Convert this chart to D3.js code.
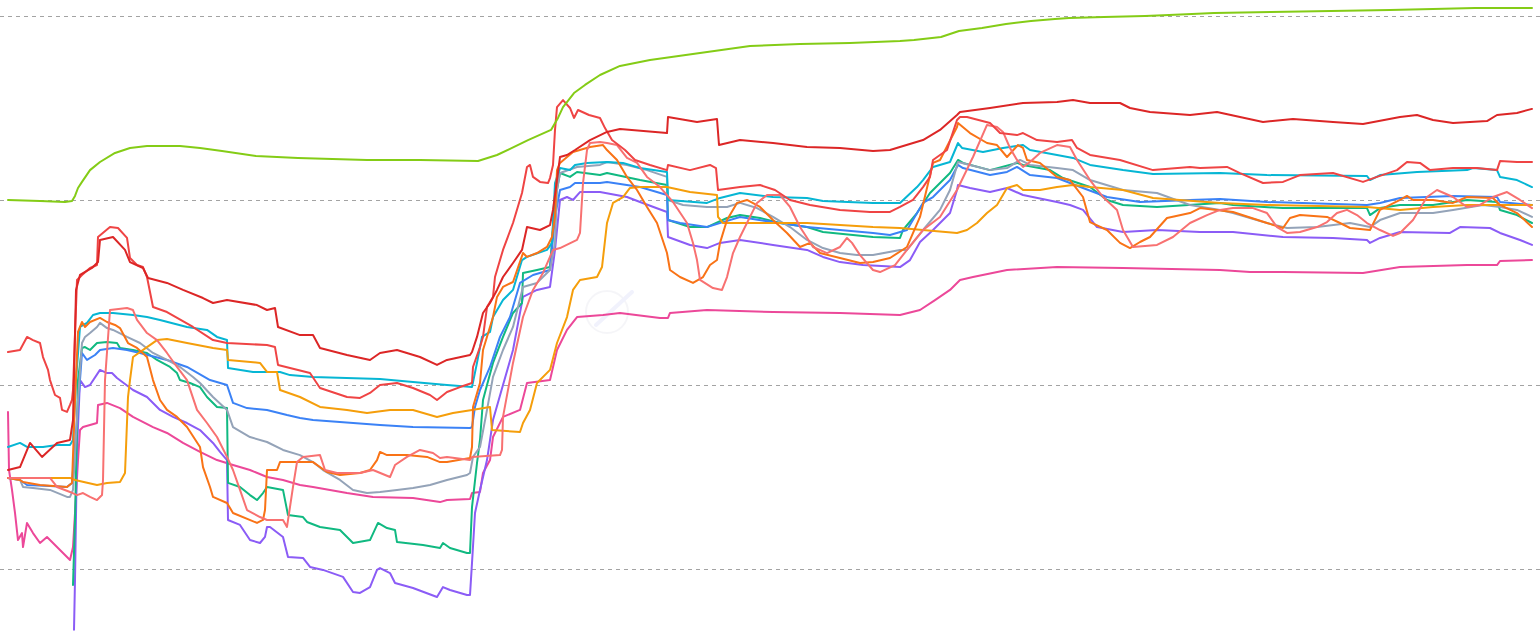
<!DOCTYPE html>
<html><head><meta charset="utf-8">
<script src="https://cdn.jsdelivr.net/npm/d3@7"></script>
<style>html,body{margin:0;padding:0;background:#fff;overflow:hidden}</style>
</head><body><svg id="chart" width="1540" height="633"></svg>
<script>
// ---- data (x = day index, y = value) ----
const gridTicks = [0, 100, 200, 300];
const dayDomain = [0, 1524];

const lime = [[0,200.2],[32,199.6],[57,199.1],[64,199.6],[67,202.4],[70,206.7],[74,210],[82,216.4],[92,220.8],[107,225.7],[122,228.4],[139,229.5],[172,229.5],[192,228.4],[214,226.8],[248,224],[290,223],[359,221.9],[412,221.9],[470,221.3],[489,224.6],[502,227.9],[520,232.7],[543,238.2],[550,244.7],[555,250.6],[566,258.2],[577,262.6],[592,268],[612,272.9],[642,276.1],[692,279.9],[742,283.7],[792,284.8],[842,285.4],[892,286.4],[906,287],[933,288.6],[951,291.9],[974,293.5],[998,295.7],[1023,297.3],[1047,298.4],[1061,298.9],[1096,299.5],[1137,300],[1161,300.5],[1184,301.1],[1206,301.6],[1263,302.2],[1323,302.7],[1382,303.3],[1425,303.8],[1467,304.3],[1524,304.3]];

const darkRed = [[0,53.7],[12,55.3],[22,68.4],[34,60.8],[49,68.4],[62,70],[65,80.8],[68,151.4],[72,159.5],[84,163.3],[90,166.5],[92,178.5],[105,180.1],[117,173.1],[122,166.5],[135,163.3],[140,157.9],[159,155.2],[175,151.4],[195,147],[205,144.3],[219,145.9],[249,143.2],[259,140.5],[267,141.6],[270,131.3],[292,126.9],[305,126.9],[312,119.9],[339,116.1],[362,113.4],[372,117.2],[389,118.8],[412,115],[429,110.7],[439,113.4],[462,116.1],[464,117.7],[469,125.9],[475,138.9],[482,144.3],[489,151.4],[495,158.4],[505,166],[514,173.1],[519,185.5],[532,183.9],[542,186.6],[545,194.8],[552,223.5],[559,224.6],[567,227.3],[582,232.7],[599,237.1],[612,238.7],[659,236.5],[660,245.2],[689,242.5],[709,244.1],[711,230],[732,232.7],[765,231.1],[799,228.9],[832,228.4],[865,226.8],[882,227.3],[915,232.7],[932,238.2],[949,246.3],[952,247.9],[982,250.1],[1015,252.8],[1049,253.4],[1065,254.4],[1082,252.8],[1112,252.8],[1122,250.1],[1142,247.9],[1182,246.3],[1209,247.9],[1232,245.2],[1255,242.5],[1285,244.1],[1325,242.5],[1355,241.4],[1392,245.2],[1409,246.3],[1425,243.6],[1445,242],[1479,243],[1489,246.3],[1509,247.4],[1524,249.6]];

const red = [[0,117.7],[12,118.8],[19,125.9],[25,124.2],[32,122.6],[35,115],[40,108],[42,102.5],[47,94.4],[52,92.8],[54,86.3],[59,85.2],[62,89],[64,91.7],[65,97.1],[69,156.8],[74,159.5],[82,163.3],[89,164.9],[90,180.1],[102,185.5],[110,185],[119,179.6],[122,168.7],[129,164.9],[135,163.8],[139,158.4],[145,142.1],[159,139.4],[185,131.3],[205,124.2],[219,122.6],[259,121.5],[267,120.4],[270,110.7],[302,106.3],[312,98.2],[339,93.3],[352,92.8],[362,95.5],[372,99.8],[389,100.9],[405,98.2],[422,94.4],[429,91.7],[439,96],[452,98.7],[464,100.9],[465,109.6],[472,120.4],[475,125.9],[479,142.1],[485,147.6],[487,158.4],[495,173.1],[505,187.7],[514,204],[519,218.1],[522,219.2],[525,212.7],[532,210],[540,209.4],[542,212.1],[545,219.2],[547,238.2],[549,250.6],[555,254.4],[562,250.1],[566,244.7],[570,249],[581,246.3],[592,244.7],[597,239.2],[604,232.7],[617,227.3],[627,221.9],[642,219.2],[659,216.4],[660,219.2],[682,216.4],[702,219.2],[708,217.5],[710,205.6],[732,207.2],[752,208.3],[767,205.6],[782,200.2],[802,197.5],[832,194.8],[862,193.7],[882,193.7],[892,196.4],[905,200.2],[915,207.2],[922,212.7],[925,221.9],[939,227.3],[949,243.6],[952,245.2],[959,245.2],[982,242],[992,236.5],[1009,235.4],[1015,236.5],[1029,232.7],[1049,231.6],[1064,232.7],[1069,228.4],[1082,224.6],[1112,221.9],[1145,216.4],[1182,218.1],[1192,217.5],[1219,218.1],[1232,214.8],[1255,209.4],[1275,210],[1292,213.7],[1325,214.8],[1355,210],[1369,212.7],[1389,216.4],[1399,220.8],[1412,220.3],[1422,216.4],[1445,217.5],[1469,217.5],[1489,216.4],[1492,221.3],[1509,220.8],[1524,220.8]];

const salmon = [[0,49.4],[42,49.4],[49,44.5],[62,41.8],[69,40.1],[75,41.2],[82,39.1],[89,37.4],[94,40.1],[95,48.3],[97,102.5],[102,140.5],[119,141.6],[125,140.5],[129,135.1],[139,128],[149,124.2],[159,117.2],[169,109.6],[179,102.5],[189,86.3],[199,79.2],[209,71.6],[219,60.8],[225,53.7],[232,42.9],[239,32],[252,28.2],[259,26.6],[275,26.6],[279,22.8],[285,44.5],[289,58],[295,60.8],[312,61.8],[317,53.7],[329,52.1],[352,52.1],[365,53.7],[382,49.9],[387,56.4],[399,60.8],[412,64.6],[425,62.9],[432,60.2],[439,60.8],[462,59.1],[464,60.8],[492,61.8],[494,64.6],[495,82.5],[505,111.8],[515,136.7],[525,151.4],[535,160.6],[545,173.1],[552,174.1],[569,178.5],[572,182.3],[575,209.4],[579,227.3],[582,231.1],[592,231.6],[599,231.1],[609,230],[619,223],[629,220.3],[639,212.7],[652,207.2],[665,199.1],[679,187.7],[685,176.9],[689,167.6],[692,156.8],[705,152.4],[714,151.4],[719,158.4],[725,171.4],[732,180.1],[742,191],[749,198.6],[759,202.9],[772,202.9],[782,196.4],[792,185.5],[805,174.7],[819,171.4],[832,174.7],[839,179.6],[844,176.9],[852,170.3],[865,162.2],[872,161.1],[887,164.9],[899,173.1],[915,183.9],[932,191],[949,205.6],[965,223.5],[979,240.9],[989,239.8],[995,237.1],[1002,228.4],[1009,221.9],[1015,218.1],[1022,220.8],[1032,225.7],[1049,230],[1062,228.9],[1069,221.9],[1082,211],[1095,201.8],[1109,194.8],[1115,183.9],[1125,174.7],[1149,175.8],[1165,180.1],[1182,187.7],[1199,192],[1212,194.8],[1225,195.8],[1245,195.8],[1259,193.1],[1269,185.5],[1279,182.3],[1292,182.8],[1309,185.5],[1319,188.2],[1329,193.1],[1339,194.8],[1349,192],[1359,187.7],[1372,183.9],[1385,180.7],[1392,182.3],[1405,189.3],[1419,201.8],[1429,205.6],[1445,201.8],[1459,196.4],[1472,197.5],[1485,201.8],[1499,204.5],[1512,200.2],[1524,195.8]];

const cyan = [[0,66.2],[12,68.4],[19,66.2],[35,66.2],[49,67.3],[62,67.3],[65,70],[68,102.5],[72,131.3],[79,133.5],[85,137.8],[92,138.9],[105,138.9],[125,137.8],[139,136.7],[152,135.1],[179,131.3],[199,129.7],[209,125.9],[219,124.2],[220,109],[245,106.9],[272,106.9],[282,105.2],[305,104.2],[372,103.1],[405,101.4],[439,99.8],[464,98.7],[469,111.8],[474,125.9],[482,128.6],[485,136.7],[495,145.9],[505,151.4],[514,167.6],[519,169.3],[539,173.1],[544,176.9],[547,209.4],[552,217.5],[562,216.4],[567,219.2],[579,220.3],[599,220.8],[615,220.3],[632,217.5],[659,215.4],[660,200.2],[699,198.6],[712,201.3],[732,204],[765,201.8],[799,201.3],[815,199.6],[865,198.6],[892,198.6],[909,207.2],[915,211],[925,218.1],[942,220.8],[950,231.1],[954,228.4],[975,226.2],[995,228.4],[1015,230],[1022,227.3],[1049,224.6],[1065,223],[1082,219.2],[1115,216.4],[1145,214.3],[1212,214.8],[1259,213.7],[1359,213.2],[1362,211],[1372,213.7],[1409,215.4],[1459,216.4],[1465,217.5],[1489,216.4],[1492,212.7],[1509,211],[1524,207.2]];

const orange = [[0,49.4],[12,48.3],[15,47.2],[32,45.6],[59,44.5],[64,46.7],[67,91.7],[70,128.6],[74,134],[77,131.3],[82,134],[92,136.2],[99,134],[107,132.4],[112,130.7],[120,122.6],[129,119.9],[139,115],[145,102.5],[152,91.7],[159,86.3],[169,82.5],[179,77],[192,66.2],[195,55.3],[202,44.5],[205,39.1],[219,35.8],[225,30.4],[249,25],[255,26.6],[257,32],[259,53.7],[269,53.7],[272,58],[305,58],[319,52.6],[332,51],[352,52.1],[362,53.7],[369,59.1],[372,63.5],[379,61.8],[399,61.8],[419,60.8],[432,58],[439,58],[462,60.2],[464,66.2],[465,87.9],[472,100.9],[475,118.8],[485,136.7],[489,147.6],[495,153],[505,155.7],[515,171.4],[519,169.3],[529,171.4],[539,174.7],[544,180.1],[547,191],[549,216.4],[552,220.3],[565,226.2],[582,228.9],[595,230],[599,227.3],[609,221.9],[619,212.7],[629,205.6],[639,196.4],[649,187.7],[659,171.4],[662,162.2],[672,158.4],[685,155.2],[695,158.4],[702,164.9],[709,167.6],[712,176.9],[719,189.3],[729,198.6],[739,200.2],[752,196.4],[765,189.3],[779,182.3],[792,174.7],[802,176.9],[812,171.4],[832,168.7],[852,166],[865,166.5],[882,168.7],[899,174.7],[912,191],[925,220.3],[932,221.9],[949,239.8],[950,242],[962,236.5],[979,231.1],[989,230],[999,223.5],[1010,230],[1015,228.4],[1019,221.9],[1032,220.3],[1049,212.7],[1062,211],[1075,201.8],[1082,188.2],[1099,183.9],[1112,176.9],[1122,174.1],[1132,177.4],[1142,180.1],[1159,190.4],[1182,193.1],[1192,195.8],[1225,193.7],[1259,187.7],[1275,185],[1282,190.4],[1292,192],[1319,191],[1332,187.7],[1342,185],[1362,183.9],[1372,194.8],[1392,200.2],[1399,202.4],[1405,200.2],[1425,200.2],[1445,198.6],[1459,201.8],[1485,201.3],[1492,197.5],[1509,193.1],[1524,185.5]];

const amber = [[0,49.4],[62,49.4],[67,48.3],[89,45.6],[99,46.7],[112,47.2],[117,52.1],[120,93.3],[122,102.5],[125,115],[139,120.4],[149,124.2],[159,124.8],[179,122.6],[205,119.9],[219,118.8],[220,113.4],[252,111.8],[259,106.9],[269,106.9],[272,97.1],[292,93.3],[312,87.9],[339,86.3],[359,84.6],[382,86.3],[405,86.3],[429,82.5],[445,84.6],[464,86.3],[482,87.9],[484,75.4],[512,74.3],[515,79.2],[522,86.3],[529,100.9],[542,108],[549,122.6],[559,136.7],[565,151.4],[572,156.8],[589,158.4],[594,163.8],[599,187.7],[605,198.6],[615,201.8],[622,206.7],[632,207.2],[659,207.2],[682,204.5],[709,202.9],[710,191],[715,187.7],[765,187.7],[799,187.7],[832,186.6],[865,185.5],[892,185],[949,182.3],[959,183.9],[969,187.7],[979,193.1],[989,197.5],[999,206.7],[1009,208.3],[1015,205.6],[1032,205.6],[1049,207.2],[1065,208.3],[1082,207.2],[1115,205.6],[1145,201.3],[1212,198.6],[1259,197.5],[1359,196.4],[1392,194.8],[1425,196.4],[1459,197.5],[1492,197.5],[1524,197.5]];

const blue = [[0,49.4],[12,48.3],[19,45.6],[42,45],[59,44.5],[64,46.7],[69,80.8],[74,117.2],[79,113.4],[87,116.1],[92,118.8],[105,119.9],[119,118.8],[132,117.2],[159,113.4],[179,109.6],[202,102.5],[219,99.8],[225,90.1],[239,87.3],[259,86.3],[279,83.5],[292,81.9],[305,80.8],[372,78.1],[405,77],[462,76.5],[464,77],[467,87.9],[472,97.1],[482,109.6],[492,125.9],[502,136.7],[512,155.2],[525,159.5],[542,162.2],[547,191],[552,205.6],[562,207.2],[567,209.4],[592,209.4],[599,210],[632,207.2],[659,202.9],[660,189.3],[672,187.7],[699,185.5],[715,188.2],[732,191],[765,188.2],[799,185.5],[832,183.9],[865,182.3],[882,181.2],[899,183.9],[915,198.6],[925,201.8],[942,211],[950,219.2],[955,217.5],[982,213.7],[999,215.4],[1009,218.1],[1022,213.7],[1049,212.1],[1075,206.7],[1099,201.8],[1132,199.1],[1182,200.2],[1212,200.7],[1259,199.1],[1359,197.5],[1372,198.6],[1392,201.3],[1445,202.4],[1489,201.8],[1492,199.1],[1524,197.5]];

const green = [[65,-8.7],[67,26.6],[70,102.5],[74,119.9],[77,120.4],[82,118.8],[89,122.6],[99,123.1],[109,122.6],[112,119.9],[125,118.8],[139,117.2],[149,113.4],[162,109.6],[169,106.3],[172,102.5],[182,100.9],[192,98.7],[199,93.3],[209,87.9],[219,87.3],[220,46.7],[232,44.5],[242,40.1],[249,37.4],[255,41.2],[259,44.5],[275,42.9],[280,29.3],[295,28.2],[299,25.5],[312,22.8],[332,21.2],[345,14.1],[362,15.7],[370,25],[379,22.2],[387,21.2],[389,14.6],[415,13],[432,11.4],[435,14.1],[442,11.4],[459,8.7],[462,8.7],[464,33.6],[469,57.5],[472,70],[475,91.7],[479,99.8],[485,111.8],[495,125.9],[505,138.9],[514,144.3],[515,160.6],[529,162.2],[542,163.8],[547,200.2],[552,214.8],[562,212.7],[569,215.4],[592,213.7],[599,214.8],[632,211],[659,208.3],[660,189.3],[682,185.5],[699,185.5],[719,190.4],[732,192],[752,190.4],[772,187.7],[799,185.5],[815,182.8],[865,180.1],[892,179.6],[895,183.9],[909,193.1],[922,204],[942,214.8],[950,221.9],[955,220.3],[982,216.4],[1009,220.3],[1015,219.2],[1042,216.4],[1055,212.1],[1082,207.2],[1099,200.2],[1115,197.5],[1149,196.4],[1212,198.6],[1225,197.5],[1275,195.8],[1359,195.8],[1362,192],[1372,195.8],[1392,197.5],[1425,197.5],[1459,200.2],[1489,199.1],[1492,194.8],[1509,192],[1524,187.7]];

const gray = [[0,49.4],[12,48.3],[15,44.5],[25,43.9],[42,42.9],[59,39.1],[62,39.1],[65,42.9],[70,91.7],[74,122.6],[77,125.9],[82,128],[89,131.3],[92,133.5],[99,130.7],[105,129.7],[119,125.9],[132,122.6],[145,117.2],[159,113.4],[172,109.6],[185,104.2],[192,100.9],[205,93.3],[219,86.3],[225,77],[242,71.6],[259,68.9],[275,64.6],[292,61.8],[305,58],[315,53.7],[332,48.3],[345,42.9],[359,41.2],[372,41.8],[389,42.9],[405,43.9],[422,45.6],[439,48.3],[459,51],[462,52.1],[465,60.8],[472,66.2],[479,86.3],[485,104.2],[495,118.8],[505,131.3],[515,153],[529,155.2],[542,162.2],[547,176.9],[549,205.6],[552,214.8],[569,218.1],[592,219.2],[599,220.8],[619,219.2],[639,216.4],[659,212.7],[660,200.2],[675,197.5],[699,196.4],[719,196.4],[732,198.6],[749,195.8],[765,191],[782,185.5],[799,178.5],[815,174.1],[832,171.4],[849,170.3],[865,170.3],[892,173.1],[899,173.1],[915,183.9],[932,194.8],[942,205.6],[950,220.8],[962,219.2],[982,216.4],[999,217.5],[1012,221.9],[1022,219.2],[1049,217.5],[1065,216.4],[1082,211],[1115,205.6],[1149,204],[1182,197.5],[1212,194.8],[1225,193.1],[1259,187.7],[1279,185],[1309,185.5],[1342,187.7],[1362,185.5],[1372,189.3],[1392,193.1],[1425,193.1],[1445,194.8],[1475,197.5],[1492,196.4],[1509,194.8],[1524,191]];

const purple = [[66,-33],[67,-6],[69,64.6],[72,102.5],[77,98.7],[82,99.8],[92,108],[99,106.3],[104,106.3],[109,103.6],[125,97.1],[139,93.3],[152,86.3],[165,82.5],[179,79.2],[192,75.4],[205,68.4],[212,63.5],[219,59.1],[220,26.6],[232,23.9],[242,15.7],[252,14.1],[257,17.4],[259,22.8],[262,22.8],[275,17.4],[280,6.5],[295,6],[302,1.1],[315,-0.5],[335,-4.3],[345,-12.5],[352,-13],[362,-9.8],[369,-0.5],[372,0.5],[382,-2.2],[387,-7.6],[405,-10.3],[429,-15.2],[435,-9.8],[442,-11.4],[459,-14.1],[462,-14.1],[464,3.3],[467,30.4],[472,42.9],[479,59.1],[485,80.8],[495,99.8],[505,118.8],[515,147.6],[529,151.4],[542,153],[547,173.1],[552,200.2],[559,201.8],[565,200.2],[572,204.5],[592,204.5],[619,201.8],[632,199.1],[659,193.7],[660,180.1],[682,175.8],[699,174.1],[712,176.9],[732,178.5],[765,175.8],[799,173.1],[815,169.3],[832,166.5],[855,164.9],[892,163.8],[902,167.6],[912,177.4],[925,183.9],[942,193.1],[949,205.6],[950,208.3],[962,206.7],[982,204.5],[999,206.7],[1015,202.9],[1049,199.1],[1062,197.5],[1075,194.8],[1089,185.5],[1115,182.8],[1149,183.9],[1192,182.8],[1225,182.8],[1275,180.1],[1325,179.6],[1359,178.5],[1362,176.9],[1372,179.6],[1392,182.8],[1442,182.3],[1452,185.5],[1482,185],[1492,182.3],[1512,178.5],[1524,175.8]];

const pink = [[0,85.2],[1,53.7],[4,42.9],[7,30.4],[10,15.7],[14,19.5],[15,11.9],[19,25],[25,19.5],[32,14.1],[39,17.4],[45,14.1],[52,10.3],[62,4.9],[65,11.9],[67,30.4],[70,59.1],[72,75.4],[75,77],[89,79.2],[90,89],[99,90.1],[112,87.3],[125,82.5],[145,77],[159,73.8],[175,68.4],[192,63.5],[209,59.1],[225,56.4],[242,53.7],[259,49.9],[275,48.3],[292,45.6],[305,44.5],[339,41.2],[365,39.1],[405,38.5],[432,36.3],[439,37.4],[462,38],[464,41.2],[472,41.8],[475,52.1],[482,59.1],[485,71.6],[495,82.5],[512,86.3],[519,100.9],[542,102.5],[549,118.8],[559,129.7],[569,136.7],[595,137.8],[612,138.9],[652,136.2],[660,136.2],[662,138.9],[699,140.5],[765,139.4],[832,138.9],[892,137.8],[912,140.5],[927,145.9],[942,151.4],[952,156.8],[965,158.4],[999,162.2],[1049,163.8],[1115,163.3],[1212,162.2],[1242,161.1],[1275,161.1],[1355,160.6],[1392,163.8],[1459,164.9],[1489,164.9],[1492,167.1],[1524,167.6]];

// ---- series list (drawing order) ----
const seriesList = [
  {name: "pink", data: pink},
  {name: "purple", data: purple},
  {name: "green", data: green},
  {name: "blue", data: blue},
  {name: "gray", data: gray},
  {name: "cyan", data: cyan},
  {name: "amber", data: amber},
  {name: "orange", data: orange},
  {name: "salmon", data: salmon},
  {name: "red", data: red},
  {name: "darkRed", data: darkRed},
  {name: "lime", data: lime}
];

// ---- styles ----
const colors = {
  pink: "#ec4899", purple: "#8b5cf6", green: "#10b981", blue: "#3b82f6",
  gray: "#94a3b8", cyan: "#06b6d4", amber: "#f59e0b", orange: "#f97316",
  salmon: "#f87171", red: "#ef4444", darkRed: "#dc2626", lime: "#84cc16"
};

const W = 1540, H = 633;
const svg = d3.select("#chart");
const x = d3.scaleLinear().domain(dayDomain).range([8, 1532]);
const y = d3.scaleLinear().domain([0, 300]).range([569, 16]);

svg.append("defs").append("clipPath").attr("id", "clip")
  .append("rect").attr("x", 0).attr("y", 0).attr("width", W).attr("height", H);

// gridlines via axis
const gridAxis = d3.axisLeft(y).tickValues(gridTicks).tickSize(-W).tickFormat("");
const g = svg.append("g").call(gridAxis);
g.select(".domain").remove();
g.selectAll(".tick line")
  .attr("stroke", "#a3a3a3").attr("stroke-width", 1)
  .attr("stroke-dasharray", "4,4").attr("shape-rendering", "crispEdges");

// faint watermark
const wm = svg.append("g").attr("opacity", 0.5);
wm.append("circle").attr("cx", 607).attr("cy", 312).attr("r", 21)
  .attr("fill", "none").attr("stroke", "#ececf2").attr("stroke-width", 2);
wm.append("line").attr("x1", 596).attr("y1", 325).attr("x2", 632).attr("y2", 292)
  .attr("stroke", "#e4e6fb").attr("stroke-width", 4).attr("stroke-linecap", "round");

const line = d3.line().x(d => x(d[0])).y(d => y(d[1])).curve(d3.curveLinear);

const plot = svg.append("g").attr("clip-path", "url(#clip)");
plot.selectAll("path.series").data(seriesList).join("path")
  .attr("class", "series")
  .attr("d", d => line(d.data))
  .attr("fill", "none")
  .attr("stroke", d => colors[d.name])
  .attr("stroke-width", 2)
  .attr("stroke-linejoin", "round")
  .attr("stroke-linecap", "round");
</script>
</body></html>
